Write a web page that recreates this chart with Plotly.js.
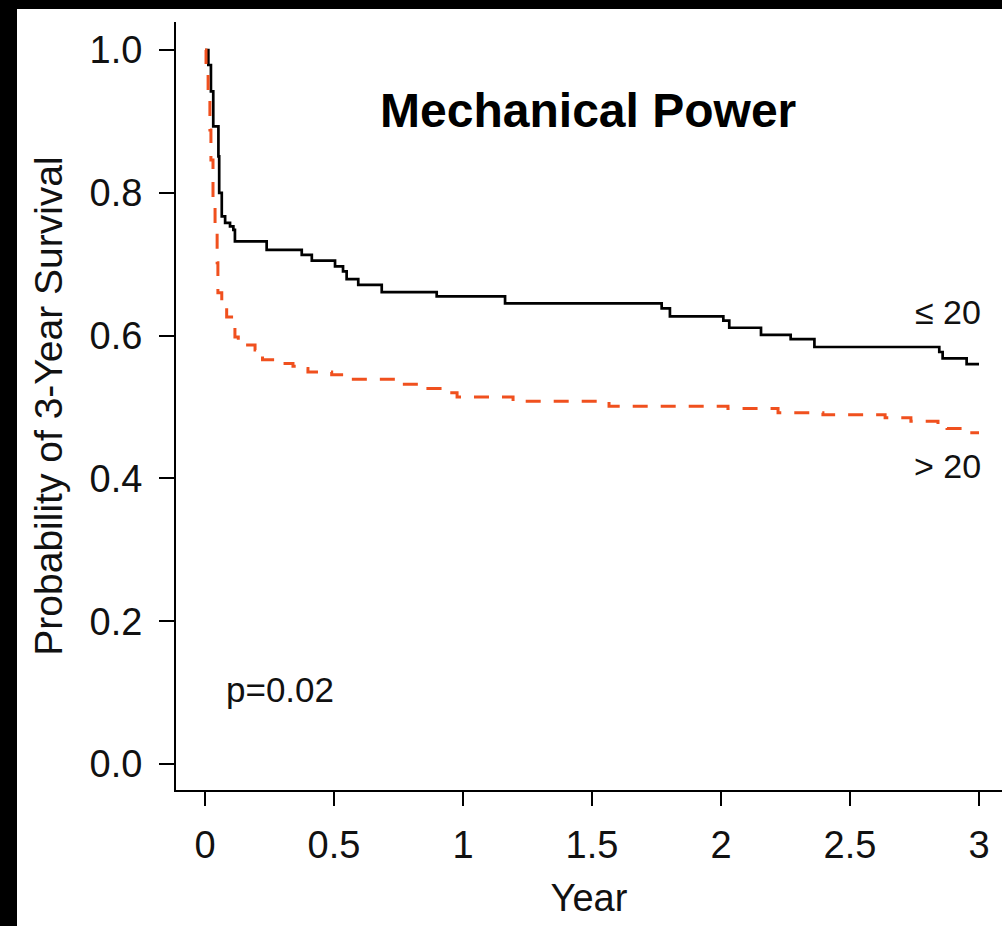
<!DOCTYPE html>
<html>
<head>
<meta charset="utf-8">
<script src="https://cdn.plot.ly/plotly-3.0.1.min.js"></script>
<style>
  html, body { margin: 0; padding: 0; background: #000; width: 1002px; height: 926px; overflow: hidden; }
  #chart { position: absolute; left: 17px; top: 9px; width: 985px; height: 917px; background: #fff; }
</style>
</head>
<body>
<div id="chart"></div>
<script>
// ---- data ----
const yearsLe20 = [0, 0.013, 0.023, 0.032, 0.052, 0.055, 0.065, 0.078, 0.097, 0.110, 0.116, 0.239, 0.375, 0.414, 0.504, 0.535, 0.549, 0.594, 0.685, 0.898, 1.163, 1.770, 1.802, 2.009, 2.032, 2.155, 2.270, 2.362, 2.846, 2.859, 2.952, 3.0];
const survLe20  = [1.0, 0.979, 0.942, 0.893, 0.851, 0.800, 0.767, 0.758, 0.753, 0.748, 0.732, 0.720, 0.713, 0.705, 0.697, 0.690, 0.679, 0.671, 0.661, 0.655, 0.645, 0.638, 0.627, 0.621, 0.611, 0.601, 0.595, 0.584, 0.577, 0.568, 0.560, 0.560];

const yearsGt20 = [0, 0.004, 0.012, 0.019, 0.023, 0.031, 0.039, 0.047, 0.050, 0.065, 0.084, 0.103, 0.116, 0.129, 0.194, 0.213, 0.223, 0.278, 0.341, 0.380, 0.399, 0.491, 0.562, 0.744, 0.864, 0.911, 0.977, 1.194, 1.566, 2.027, 2.221, 2.395, 2.636, 2.736, 2.841, 2.876, 2.953, 3.0];
const survGt20  = [1.0, 0.976, 0.930, 0.888, 0.846, 0.790, 0.748, 0.702, 0.660, 0.640, 0.626, 0.617, 0.598, 0.587, 0.580, 0.573, 0.566, 0.561, 0.557, 0.554, 0.549, 0.545, 0.539, 0.532, 0.526, 0.520, 0.514, 0.508, 0.501, 0.498, 0.492, 0.489, 0.485, 0.480, 0.476, 0.470, 0.464, 0.464];

const xTickVals = [0, 0.5, 1, 1.5, 2, 2.5, 3];
const xTickText = ['0', '0.5', '1', '1.5', '2', '2.5', '3'];
const yTickVals = [0, 0.2, 0.4, 0.6, 0.8, 1.0];
const yTickText = ['0.0', '0.2', '0.4', '0.6', '0.8', '1.0'];

const groupLabels = ['\u2264 20', '> 20'];
const chartTitle = 'Mechanical Power';
const pValueText = 'p=0.02';

// ---- chart ----
const FONT = '"Liberation Sans", Arial, Helvetica, sans-serif';

const traces = [
  {
    x: yearsLe20, y: survLe20, type: 'scatter', mode: 'lines',
    line: { shape: 'hv', color: '#000000', width: 2.7 },
    name: groupLabels[0], hoverinfo: 'skip'
  },
  {
    x: yearsGt20, y: survGt20, type: 'scatter', mode: 'lines',
    line: { shape: 'hv', color: '#F0501E', width: 3, dash: '15px,13px' },
    name: groupLabels[1], hoverinfo: 'skip'
  }
];

const layout = {
  width: 985, height: 917,
  margin: { l: 159, r: 0, t: 13, b: 136, pad: 0 },
  paper_bgcolor: '#ffffff', plot_bgcolor: '#ffffff',
  showlegend: false,
  font: { family: FONT, color: '#000' },
  title: {
    text: '<b>' + chartTitle + '</b>',
    font: { family: FONT, size: 48, color: '#000' },
    xref: 'paper', x: 0.499, xanchor: 'center',
    yref: 'paper', y: 0.885, yanchor: 'middle'
  },
  xaxis: {
    range: [-0.1124, 3.0891],
    showgrid: false, zeroline: false,
    showline: true, linecolor: '#000', linewidth: 2, mirror: false,
    ticks: 'outside', ticklen: 14, tickwidth: 2, tickcolor: '#000',
    tickmode: 'array', tickvals: xTickVals, ticktext: xTickText,
    tickfont: { family: FONT, size: 38, color: '#111' },
    ticklabelstandoff: 6,
    title: { text: 'Year', font: { family: FONT, size: 38, color: '#111' }, standoff: 20 },
    automargin: false, fixedrange: true
  },
  yaxis: {
    range: [-0.0364, 1.0392],
    showgrid: false, zeroline: false,
    showline: true, linecolor: '#000', linewidth: 2, mirror: false,
    ticks: 'outside', ticklen: 15, tickwidth: 2, tickcolor: '#000',
    tickmode: 'array', tickvals: yTickVals, ticktext: yTickText,
    tickfont: { family: FONT, size: 38, color: '#111' },
    ticklabelstandoff: 9,
    title: { text: 'Probability of 3-Year Survival', font: { family: FONT, size: 39, color: '#111' }, standoff: 15 },
    automargin: false, fixedrange: true
  },
  annotations: [
    { x: 0.072, y: 0.104, xref: 'x', yref: 'y', text: pValueText, showarrow: false,
      xanchor: 'left', yanchor: 'middle', font: { family: FONT, size: 35, color: '#111' } },
    { x: 3.016, y: 0.633, xref: 'x', yref: 'y', text: groupLabels[0], showarrow: false,
      xanchor: 'right', yanchor: 'middle', font: { family: FONT, size: 34, color: '#111' } },
    { x: 3.016, y: 0.417, xref: 'x', yref: 'y', text: groupLabels[1], showarrow: false,
      xanchor: 'right', yanchor: 'middle', font: { family: FONT, size: 34, color: '#111' } }
  ]
};

Plotly.newPlot('chart', traces, layout, { staticPlot: true, displayModeBar: false });
</script>
</body>
</html>
